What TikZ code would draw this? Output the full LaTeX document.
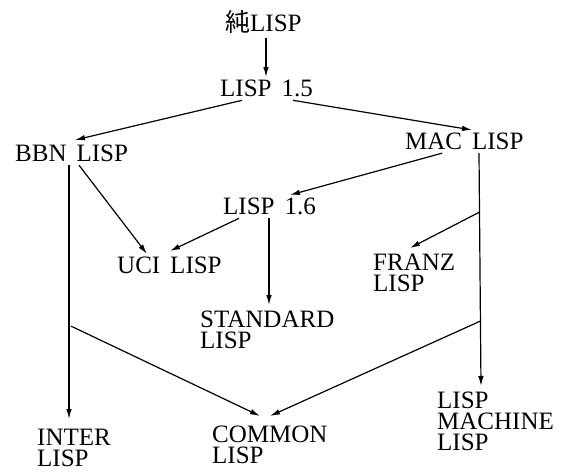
\documentclass[tikz,border=0pt]{standalone}
\usepackage{fontspec}
\setmainfont{Liberation Serif}
\newfontfamily\cjk{Noto Sans CJK JP}
\usetikzlibrary{arrows.meta}
\newcommand{\wsp}{\hspace{0.4em}}
\tikzset{
    lang/.style={anchor=north west, inner sep=3pt, align=left,
        font=\fontsize{25}{21}\selectfont},
    flow/.style={-{Latex[length=10pt, width=5.5pt]}, line width=1.2pt},
}

\begin{document}
\begin{tikzpicture}[x=1pt, y=-1pt]
    \useasboundingbox (0,0) rectangle (568,472);

    % dialects
    \node[lang] (pure) at (222,7) {{\cjk 純}LISP};
    \node[lang] (l15) at (217,77) {LISP\wsp 1.5};
    \node[lang] (bbn) at (12,142) {BBN\wsp LISP};
    \node[lang] (mac) at (402,130) {MAC\wsp LISP};
    \node[lang] (l16) at (220,195) {LISP\wsp 1.6};
    \node[lang] (uci) at (114,254) {UCI\wsp LISP};
    \node[lang] (franz) at (370,251) {FRANZ\\LISP};
    \node[lang] (std) at (197,308) {STANDARD\\LISP};
    \node[lang] (inter) at (34,426) {INTER\\LISP};
    \node[lang] (common) at (209,423) {COMMON\\LISP};
    \node[lang] (lml) at (434,389) {LISP\\MACHINE\\LISP};

    % descent
    \draw[flow] ([xshift=44pt, yshift=-2pt]pure.south west) -- ([xshift=49pt]l15.north west);
    \draw[flow] ([xshift=25pt]l15.south west) -- ([xshift=63pt, yshift=2pt]bbn.north west);
    \draw[flow] ([xshift=76pt]l15.south west) -- ([xshift=70pt]mac.north west);
    \draw[flow] ([xshift=40pt]mac.south west) -- ([xshift=70pt]l16.north west);
    \draw[flow] ([xshift=67pt]bbn.south west) -- ([xshift=33pt]uci.north west);
    \draw[flow] ([xshift=19pt]l16.south west) -- ([xshift=56pt, yshift=3pt]uci.north west);
    \draw[flow] ([xshift=49pt]l16.south west) -- ([xshift=72pt, yshift=3pt]std.north west);

    % long lines with side branches
    \draw[flow] ([xshift=57pt]bbn.south west)
        -- coordinate[pos=0.634] (bbnsplit) ([xshift=35pt, yshift=7pt]inter.north west);
    \draw[flow] ([xshift=77pt]mac.south west)
        -- coordinate[pos=0.253] (franzsplit) coordinate[pos=0.721] (commonsplit)
        ([xshift=47pt, yshift=3pt]lml.north west);

    \draw[flow] (franzsplit) -- ([xshift=40pt, yshift=3pt]franz.north west);
    \draw[flow] ([xshift=2pt]bbnsplit) -- ([xshift=51pt, yshift=7pt]common.north west);
    \draw[flow] (commonsplit) -- ([xshift=61pt, yshift=7pt]common.north west);
\end{tikzpicture}
\end{document}
